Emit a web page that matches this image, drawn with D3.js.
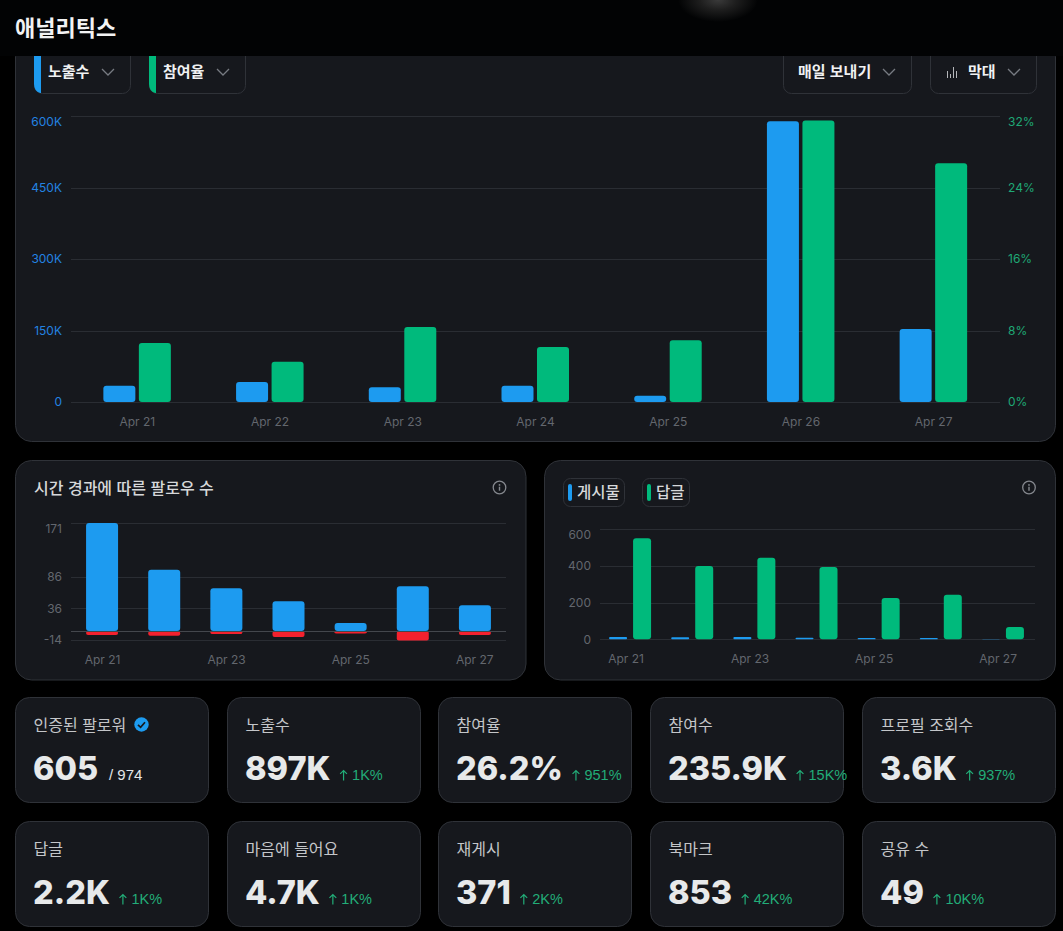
<!DOCTYPE html>
<html lang="ko">
<head>
<meta charset="utf-8">
<title>애널리틱스</title>
<script src="https://cdn.jsdelivr.net/npm/d3@7"></script>
<style>
    html, body { margin: 0; padding: 0; background: #000; overflow: hidden; }
    svg { display: block; }
    text { font-family: "Noto Sans CJK KR", "Noto Sans", sans-serif; }
    .num, .tick text { font-family: Inter, "Liberation Sans", sans-serif; }
    .delta { font-family: "Liberation Sans", Arial, sans-serif; }
</style>
</head>
<body>
<div id="chart"></div>
<script>
// data
const days = ['Apr 21', 'Apr 22', 'Apr 23', 'Apr 24', 'Apr 25', 'Apr 26', 'Apr 27'];
const everyOtherDay = ['Apr 21', 'Apr 23', 'Apr 25', 'Apr 27'];

const impressions = [34000, 42000, 31000, 34000, 13000, 589000, 153000];
const engagementRate = [6.6, 4.5, 8.4, 6.15, 6.9, 31.5, 26.7];
const impressionTicks = [0, 150000, 300000, 450000, 600000];
const rateTicks = [0, 8, 16, 24, 32];

const followsGained = [171, 97, 67.5, 47, 12.6, 70.7, 40.6];
const followsLost = [-6.3, -7.4, -5, -9.5, -4, -15, -6.3];
const followTicks = [-14, 36, 86, 171];

const posts = [13, 11, 13, 9, 7, 7, 1];
const replies = [551, 400, 445, 395, 225, 243, 67];
const postTicks = [0, 200, 400, 600];

const statLabels = ['인증된 팔로워', '노출수', '참여율', '참여수', '프로필 조회수', '답글', '마음에 들어요', '재게시', '북마크', '공유 수'];
const statValues = ['605', '897K', '26.2%', '235.9K', '3.6K', '2.2K', '4.7K', '371', '853', '49'];
const statChanges = [null, '1K%', '951%', '15K%', '937%', '1K%', '1K%', '2K%', '42K%', '10K%'];

const BLUE = '#1d9bf0';
const GREEN = '#00ba7c';
const RED = '#f4212e';
const CARD = '#16181d';
const BORDER = '#2f3238';
const GRID = '#2a2d33';
const MUTED = '#63676e';
const DELTA = '#22ad78';

const svg = d3.select('#chart').append('svg').attr('width', 1063).attr('height', 931);

const defs = svg.append('defs');
const glow = defs.append('radialGradient').attr('id', 'glow');
glow.append('stop').attr('offset', '0%').attr('stop-color', '#3a3a3a');
glow.append('stop').attr('offset', '45%').attr('stop-color', '#1e1e1e');
glow.append('stop').attr('offset', '100%').attr('stop-color', '#020304');

function card(x, y, w, h, r) {
    return svg.append('rect')
        .attr('x', x + 0.5).attr('y', y + 0.5)
        .attr('width', w).attr('height', h).attr('rx', r)
        .attr('fill', CARD).attr('stroke', BORDER);
}

function chevron(x, y) {
    svg.append('path')
        .attr('d', `M${x - 6},${y - 3}L${x},${y + 3}L${x + 6},${y - 3}`)
        .attr('fill', 'none').attr('stroke', '#777b82').attr('stroke-width', 1.3);
}

function infoIcon(x, y) {
    const g = svg.append('g').attr('transform', `translate(${x},${y})`);
    g.append('circle').attr('r', 6.3).attr('fill', 'none').attr('stroke', '#85888e').attr('stroke-width', 1.3);
    g.append('circle').attr('cy', -2.6).attr('r', 0.9).attr('fill', '#85888e');
    g.append('line').attr('y1', -0.8).attr('y2', 3.2).attr('stroke', '#85888e').attr('stroke-width', 1.4);
}

// grid lines + y axis, only the top label is pushed below its line
function yAxis(scale, ticks, x0, x1, labelX, format, color, side) {
    svg.append('g').selectAll('line').data(ticks).join('line')
        .attr('x1', x0).attr('x2', x1)
        .attr('y1', (d) => Math.round(scale(d)) + 0.5).attr('y2', (d) => Math.round(scale(d)) + 0.5)
        .attr('stroke', GRID);

    const axis = side === 'right' ? d3.axisRight(scale) : d3.axisLeft(scale);
    const g = svg.append('g')
        .attr('transform', `translate(${labelX},0)`)
        .call(axis.tickValues(ticks).tickSize(0).tickPadding(0).tickFormat(format));
    g.select('.domain').remove();
    g.selectAll('text')
        .attr('y', (d) => d === d3.max(ticks) ? 5.5 : 0)
        .attr('fill', color)
        .style('font-size', '12px');
}

function xAxis(scale, ticks, y) {
    const g = svg.append('g')
        .attr('transform', `translate(0,${y})`)
        .call(d3.axisBottom(scale).tickValues(ticks).tickSize(0).tickPadding(0));
    g.select('.domain').remove();
    g.selectAll('text').attr('fill', MUTED).style('font-size', '12px');
}

function bars(data, x, y, color, width, offset, rx) {
    svg.append('g').selectAll('rect').data(data).join('rect')
        .attr('x', (d, i) => x(days[i]) + x.bandwidth() / 2 + offset)
        .attr('y', (d) => Math.min(y(d), y(0)))
        .attr('width', width)
        .attr('height', (d) => Math.abs(y(d) - y(0)))
        .attr('rx', rx)
        .attr('fill', color);
}

// top chart
card(15, 40, 1040, 401, 16);

function dropdown(x, w, label, textX, chevX, stripe) {
    svg.append('rect').attr('x', x + 0.5).attr('y', 30.5).attr('width', w).attr('height', 63)
        .attr('rx', 8).attr('fill', CARD).attr('stroke', BORDER);
    if (stripe) {
        svg.append('path')
            .attr('d', `M${x},30H${x + 7}V93H${x + 6}Q${x},91 ${x},84Z`)
            .attr('fill', stripe);
    }
    svg.append('text').attr('x', textX).attr('y', 77)
        .attr('fill', '#f0f1f2').style('font-size', '15px').style('font-weight', 700).text(label);
    chevron(chevX, 72);
}

dropdown(34, 96, '노출수', 48, 108, BLUE);
dropdown(149, 96, '참여율', 163, 223, GREEN);
dropdown(783, 128, '매일 보내기', 798, 889);
dropdown(930, 106, '막대', 968, 1014);

svg.append('g').attr('stroke', '#b4b6ba').attr('stroke-width', 1)
    .selectAll('line').data([0, 3, 6, 9]).join('line')
    .attr('x1', (d) => 947.5 + d).attr('x2', (d) => 947.5 + d)
    .attr('y1', (d, i) => [71, 74, 67, 71][i]).attr('y2', 78);

const topX = d3.scaleBand().domain(days).range([71, 1000]);
const impressionY = d3.scaleLinear().domain([0, 600000]).range([402, 116]);
const rateY = d3.scaleLinear().domain([0, 32]).range([402, 116]);

yAxis(impressionY, impressionTicks, 71, 1000, 62, (d) => d === 0 ? '0' : `${d / 1000}K`, '#2383e2', 'left');
yAxis(rateY, rateTicks, 71, 1000, 1008, (d) => `${d}%`, '#1fa876', 'right');
bars(impressions, topX, impressionY, BLUE, 32, -34, 3);
bars(engagementRate, topX, rateY, GREEN, 32, 1.5, 3);
xAxis(topX, days, 417);

// follower chart
card(15, 460, 510.5, 219.5, 16);
svg.append('text').attr('x', 34).attr('y', 494)
    .attr('fill', '#d6d8da').style('font-size', '16px').style('font-weight', 500)
    .text('시간 경과에 따른 팔로우 수');
infoIcon(499.5, 487.5);

const followX = d3.scaleBand().domain(days).range([71, 506]).paddingInner(0.485).paddingOuter(0.2425);
const followY = d3.scaleLinear().domain([-14, 171]).range([639.8, 523]);

yAxis(followY, followTicks, 71, 506, 62, (d) => d, MUTED, 'left');
bars(followsGained, followX, followY, BLUE, followX.bandwidth(), -followX.bandwidth() / 2, 3);
bars(followsLost, followX, followY, RED, followX.bandwidth(), -followX.bandwidth() / 2, 2);
svg.append('line').attr('x1', 71).attr('x2', 506)
    .attr('y1', Math.round(followY(0)) + 0.5).attr('y2', Math.round(followY(0)) + 0.5)
    .attr('stroke', '#44474d');
xAxis(d3.scalePoint().domain(days).range([102, 474.3]), everyOtherDay, 655);

// posts / replies chart
card(544, 460, 511, 219.5, 16);
infoIcon(1029, 487.5);

function legendChip(x, w, color, label) {
    svg.append('rect').attr('x', x + 0.5).attr('y', 478.5).attr('width', w).attr('height', 28)
        .attr('rx', 7).attr('fill', CARD).attr('stroke', BORDER);
    svg.append('rect').attr('x', x + 5).attr('y', 484).attr('width', 4).attr('height', 17)
        .attr('rx', 2).attr('fill', color);
    svg.append('text').attr('x', x + 14).attr('y', 497.5)
        .attr('fill', '#d6d8da').style('font-size', '15.5px').style('font-weight', 500).text(label);
}
legendChip(563, 61, BLUE, '게시물');
legendChip(642, 47, GREEN, '답글');

const postX = d3.scaleBand().domain(days).range([600, 1035]);
const postY = d3.scaleLinear().domain([0, 600]).range([639.3, 529.3]);

yAxis(postY, postTicks, 600, 1035, 591, (d) => d, MUTED, 'left');
bars(posts, postX, postY, BLUE, 18, -22, 1);
bars(replies, postX, postY, GREEN, 18, 2, 3);
xAxis(d3.scalePoint().domain(days).range([625.6, 997.6]), everyOtherDay, 654);

// stat cards
const cardX = [15, 227, 438, 650, 862];
const cardY = [697, 821];

statLabels.forEach((label, i) => {
    const col = i % 5;
    const row = Math.floor(i / 5);
    const x = cardX[col];
    const y = cardY[row];
    card(x, y, 193, 105, 14);

    svg.append('text').attr('x', x + 18.5).attr('y', y + 33.5)
        .attr('fill', '#c4c6c9').style('font-size', '16px').style('font-weight', 400).text(label);

    const value = svg.append('text').attr('class', 'num').attr('x', x + 18).attr('y', y + 83)
        .attr('fill', '#e7e9ea').style('font-size', '32.5px').style('font-weight', 800)
        .text(statValues[i]);
    const end = x + 18 + value.node().getComputedTextLength();

    if (statChanges[i]) {
        const ax = end + 13;
        const ay = y + 83.5;
        svg.append('path')
            .attr('d', `M${ax},${ay}V${ay - 10}M${ax - 3.4},${ay - 6.6}L${ax},${ay - 10}L${ax + 3.4},${ay - 6.6}`)
            .attr('fill', 'none').attr('stroke', DELTA).attr('stroke-width', 1.2);
        svg.append('text').attr('class', 'delta').attr('x', end + 21.5).attr('y', y + 83)
            .attr('fill', DELTA).style('font-size', '14.5px')
            .text(statChanges[i]);
    }
});

svg.append('text').attr('class', 'delta').attr('x', 109).attr('y', 780)
    .attr('fill', '#e4e6e8').style('font-size', '15px').text('/ 974');

// verified badge next to the first label
svg.append('circle').attr('cx', 141.5).attr('cy', 724.5).attr('r', 7.2).attr('fill', BLUE);
svg.append('path').attr('d', 'M138,724.8L140.6,727.3L145,722.2')
    .attr('fill', 'none').attr('stroke', '#16181d').attr('stroke-width', 1.7);

// header is drawn last, it covers the top of the first card
svg.append('rect').attr('width', 1063).attr('height', 56).attr('fill', '#020304');
svg.append('ellipse').attr('cx', 718).attr('cy', 0).attr('rx', 40).attr('ry', 22).attr('fill', 'url(#glow)');
svg.append('text').attr('x', 15).attr('y', 35.5)
    .attr('fill', '#f2f3f4').style('font-size', '22px').style('font-weight', 700).text('애널리틱스');
</script>
</body>
</html>
